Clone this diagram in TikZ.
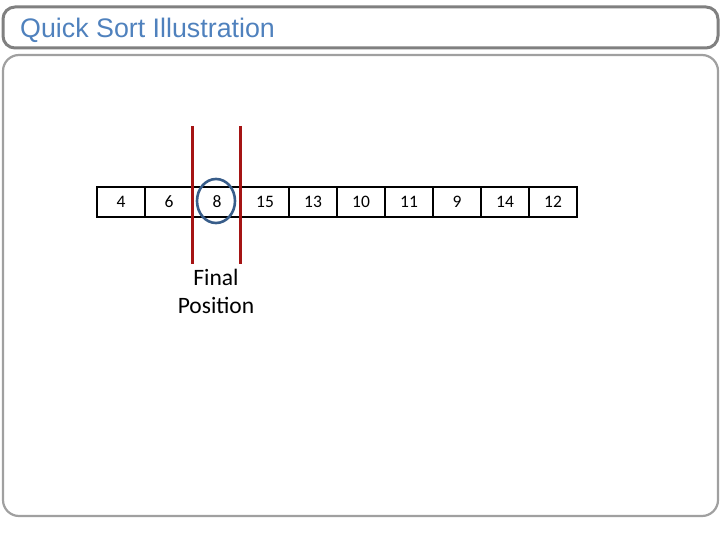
\documentclass[tikz,border=0pt]{standalone}
\usepackage{fontspec}
\usetikzlibrary{shapes.geometric}
\setmainfont{Carlito}
\newfontfamily\titlefont{Liberation Sans}
\definecolor{titleblue}{RGB}{79,129,189}
\definecolor{framegray}{RGB}{128,128,128}
\definecolor{lightframe}{RGB}{160,160,160}
\definecolor{pivred}{RGB}{165,20,20}
\definecolor{circblue}{RGB}{56,93,138}
\begin{document}
\begin{tikzpicture}[x=1pt,y=1pt,
  cell/.style={draw=black,line width=2pt,minimum width=48pt,minimum height=30pt,inner sep=0pt,text height=11pt,text depth=0pt,anchor=north west,font=\fontsize{17.5}{20}\selectfont},
  divline/.style={draw=pivred,line width=3pt},
  pivcircle/.style={draw=circblue,line width=2.6pt,ellipse,minimum width=38pt,minimum height=44pt},
  label/.style={font=\fontsize{23.5}{28}\selectfont,align=center}]
\useasboundingbox (0,0) rectangle (720,-540);
% title frame
\draw[framegray,line width=3pt,rounded corners=12pt] (3,-7) rectangle (718,-48);
\node[anchor=west,text=titleblue,font=\titlefont\fontsize{26.8}{30}\selectfont,inner sep=0pt] (title) at (20,-30) {Quick Sort Illustration};
% content frame
\draw[lightframe,line width=2.2pt,rounded corners=16pt] (3,-55) rectangle (718,-516);
% cells
\foreach \v [count=\i] in {4,6,8,15,13,10,11,9,14,12}{
  \node[cell] (c\i) at ({96+48*(\i-1)},-186) {\v};
}
% pivot circle
\node[pivcircle] (piv) at (216,-201) {};
% partition lines
\coordinate (l1t) at (192,-126);
\coordinate (l1b) at (192,-264);
\coordinate (l2t) at (240,-126);
\coordinate (l2b) at (240,-264);
\draw[divline] (l1t) -- (l1b);
\draw[divline] (l2t) -- (l2b);
% label
\node[label] (fp) at (216,-291) {Final\\Position};
\end{tikzpicture}
\end{document}
